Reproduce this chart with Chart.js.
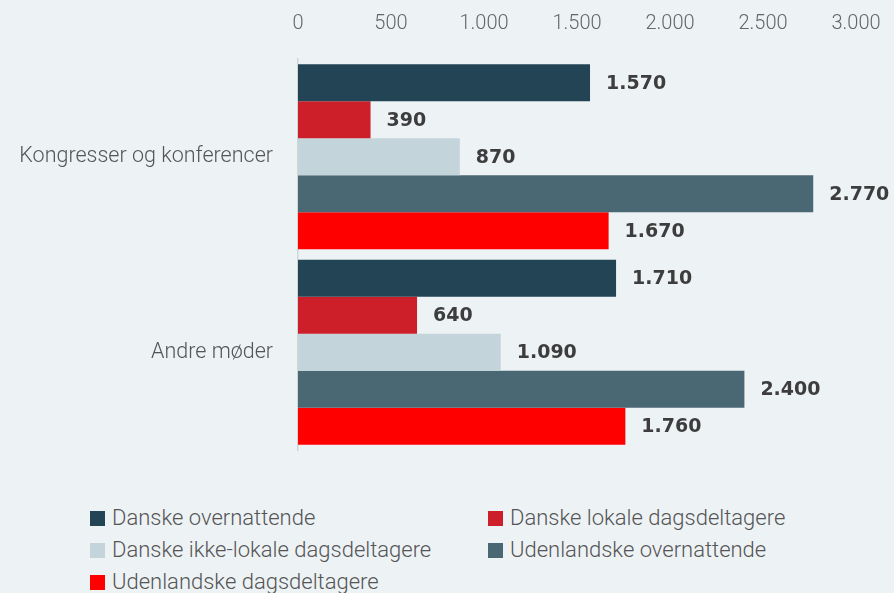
<!DOCTYPE html>
<html>
<head>
<meta charset="utf-8">
<script src="https://cdn.jsdelivr.net/npm/chart.js@4"></script>
<style>
  html, body { margin: 0; padding: 0; background: #edf2f5; }
  body { width: 894px; height: 593px; position: relative; overflow: hidden; font-family: Roboto, sans-serif; }
  #wrap { position: absolute; left: 0; top: 0; width: 894px; height: 470px; }
  #legend { position: absolute; left: 90px; top: 507px; display: grid; grid-template-columns: 398px 320px; row-gap: 10px; }
  .item { display: flex; align-items: center; font-weight: 300; font-size: 22px; color: #555; line-height: 22px; }
  .box { width: 15px; height: 15px; margin-right: 7px; }
</style>
</head>
<body>
<div id="wrap"><canvas id="chart"></canvas></div>
<div id="legend"></div>
<script>
const categories = ['Kongresser og konferencer', 'Andre møder'];
const seriesNames = [
    'Danske overnattende',
    'Danske lokale dagsdeltagere',
    'Danske ikke-lokale dagsdeltagere',
    'Udenlandske overnattende',
    'Udenlandske dagsdeltagere',
];
const danskeOvernattende = [1570, 1710];
const danskeLokale = [390, 640];
const danskeIkkeLokale = [870, 1090];
const udenlandskeOvernattende = [2770, 2400];
const udenlandskeDags = [1670, 1760];
const seriesColors = ['#224455', '#cc1f2a', '#c4d4db', '#4a6774', '#ff0000'];
const xTicks = [0, 500, 1000, 1500, 2000, 2500, 3000];

function fmt(n) {
    return String(n).replace(/\B(?=(\d{3})+(?!\d))/g, '.');
}

const valueLabels = {
    id: 'valueLabels',
    afterDatasetsDraw(chart) {
        const ctx = chart.ctx;
        ctx.save();
        ctx.font = 'bold 19px "DejaVu Sans"';
        ctx.fillStyle = '#3d3d3d';
        ctx.textBaseline = 'middle';
        chart.data.datasets.forEach((ds, i) => {
            chart.getDatasetMeta(i).data.forEach((bar, j) => {
                ctx.fillText(fmt(ds.data[j]), bar.x + 16, bar.y + 1);
            });
        });
        ctx.restore();
    },
};

const allSeries = [danskeOvernattende, danskeLokale, danskeIkkeLokale, udenlandskeOvernattende, udenlandskeDags];

const chart = new Chart(document.getElementById('chart').getContext('2d'), {
    type: 'bar',
    data: {
        labels: categories,
        datasets: allSeries.map((d, i) => ({
            label: seriesNames[i],
            data: d,
            backgroundColor: seriesColors[i],
            barPercentage: 1,
            categoryPercentage: 0.946,
        })),
    },
    options: {
        indexAxis: 'y',
        responsive: true,
        maintainAspectRatio: false,
        animation: false,
        layout: { padding: { top: 0, right: 38, bottom: 20, left: 0 } },
        plugins: {
            legend: { display: false },
            tooltip: { enabled: false },
        },
        scales: {
            x: {
                position: 'top',
                min: 0,
                max: 3000,
                afterBuildTicks: (scale) => { scale.ticks = xTicks.map(v => ({ value: v })); },
                afterFit: (scale) => {
                    scale.height = 59;
                    scale.paddingLeft = 0;
                    scale.paddingRight = 0;
                },
                grid: { display: false, drawTicks: false },
                border: { display: false },
                ticks: {
                    callback: (v) => fmt(v),
                    font: { family: 'Roboto', size: 20, weight: 300 },
                    color: '#666',
                    padding: 23,
                    maxRotation: 0,
                },
            },
            y: {
                afterFit: (scale) => {
                    scale.width = 298;
                    scale.paddingTop = 0;
                    scale.paddingBottom = 0;
                },
                grid: { display: false, drawTicks: false },
                border: { display: true, color: '#cfd6da', width: 1.5 },
                ticks: {
                    font: { family: 'Roboto', size: 21.5, weight: 300 },
                    color: '#555',
                    padding: 25,
                },
            },
        },
    },
    plugins: [valueLabels],
});

const legend = document.getElementById('legend');
chart.data.datasets.forEach((ds) => {
    const item = document.createElement('div');
    item.className = 'item';
    const box = document.createElement('span');
    box.className = 'box';
    box.style.background = ds.backgroundColor;
    const label = document.createElement('span');
    label.textContent = ds.label;
    item.appendChild(box);
    item.appendChild(label);
    legend.appendChild(item);
});
</script>
</body>
</html>
